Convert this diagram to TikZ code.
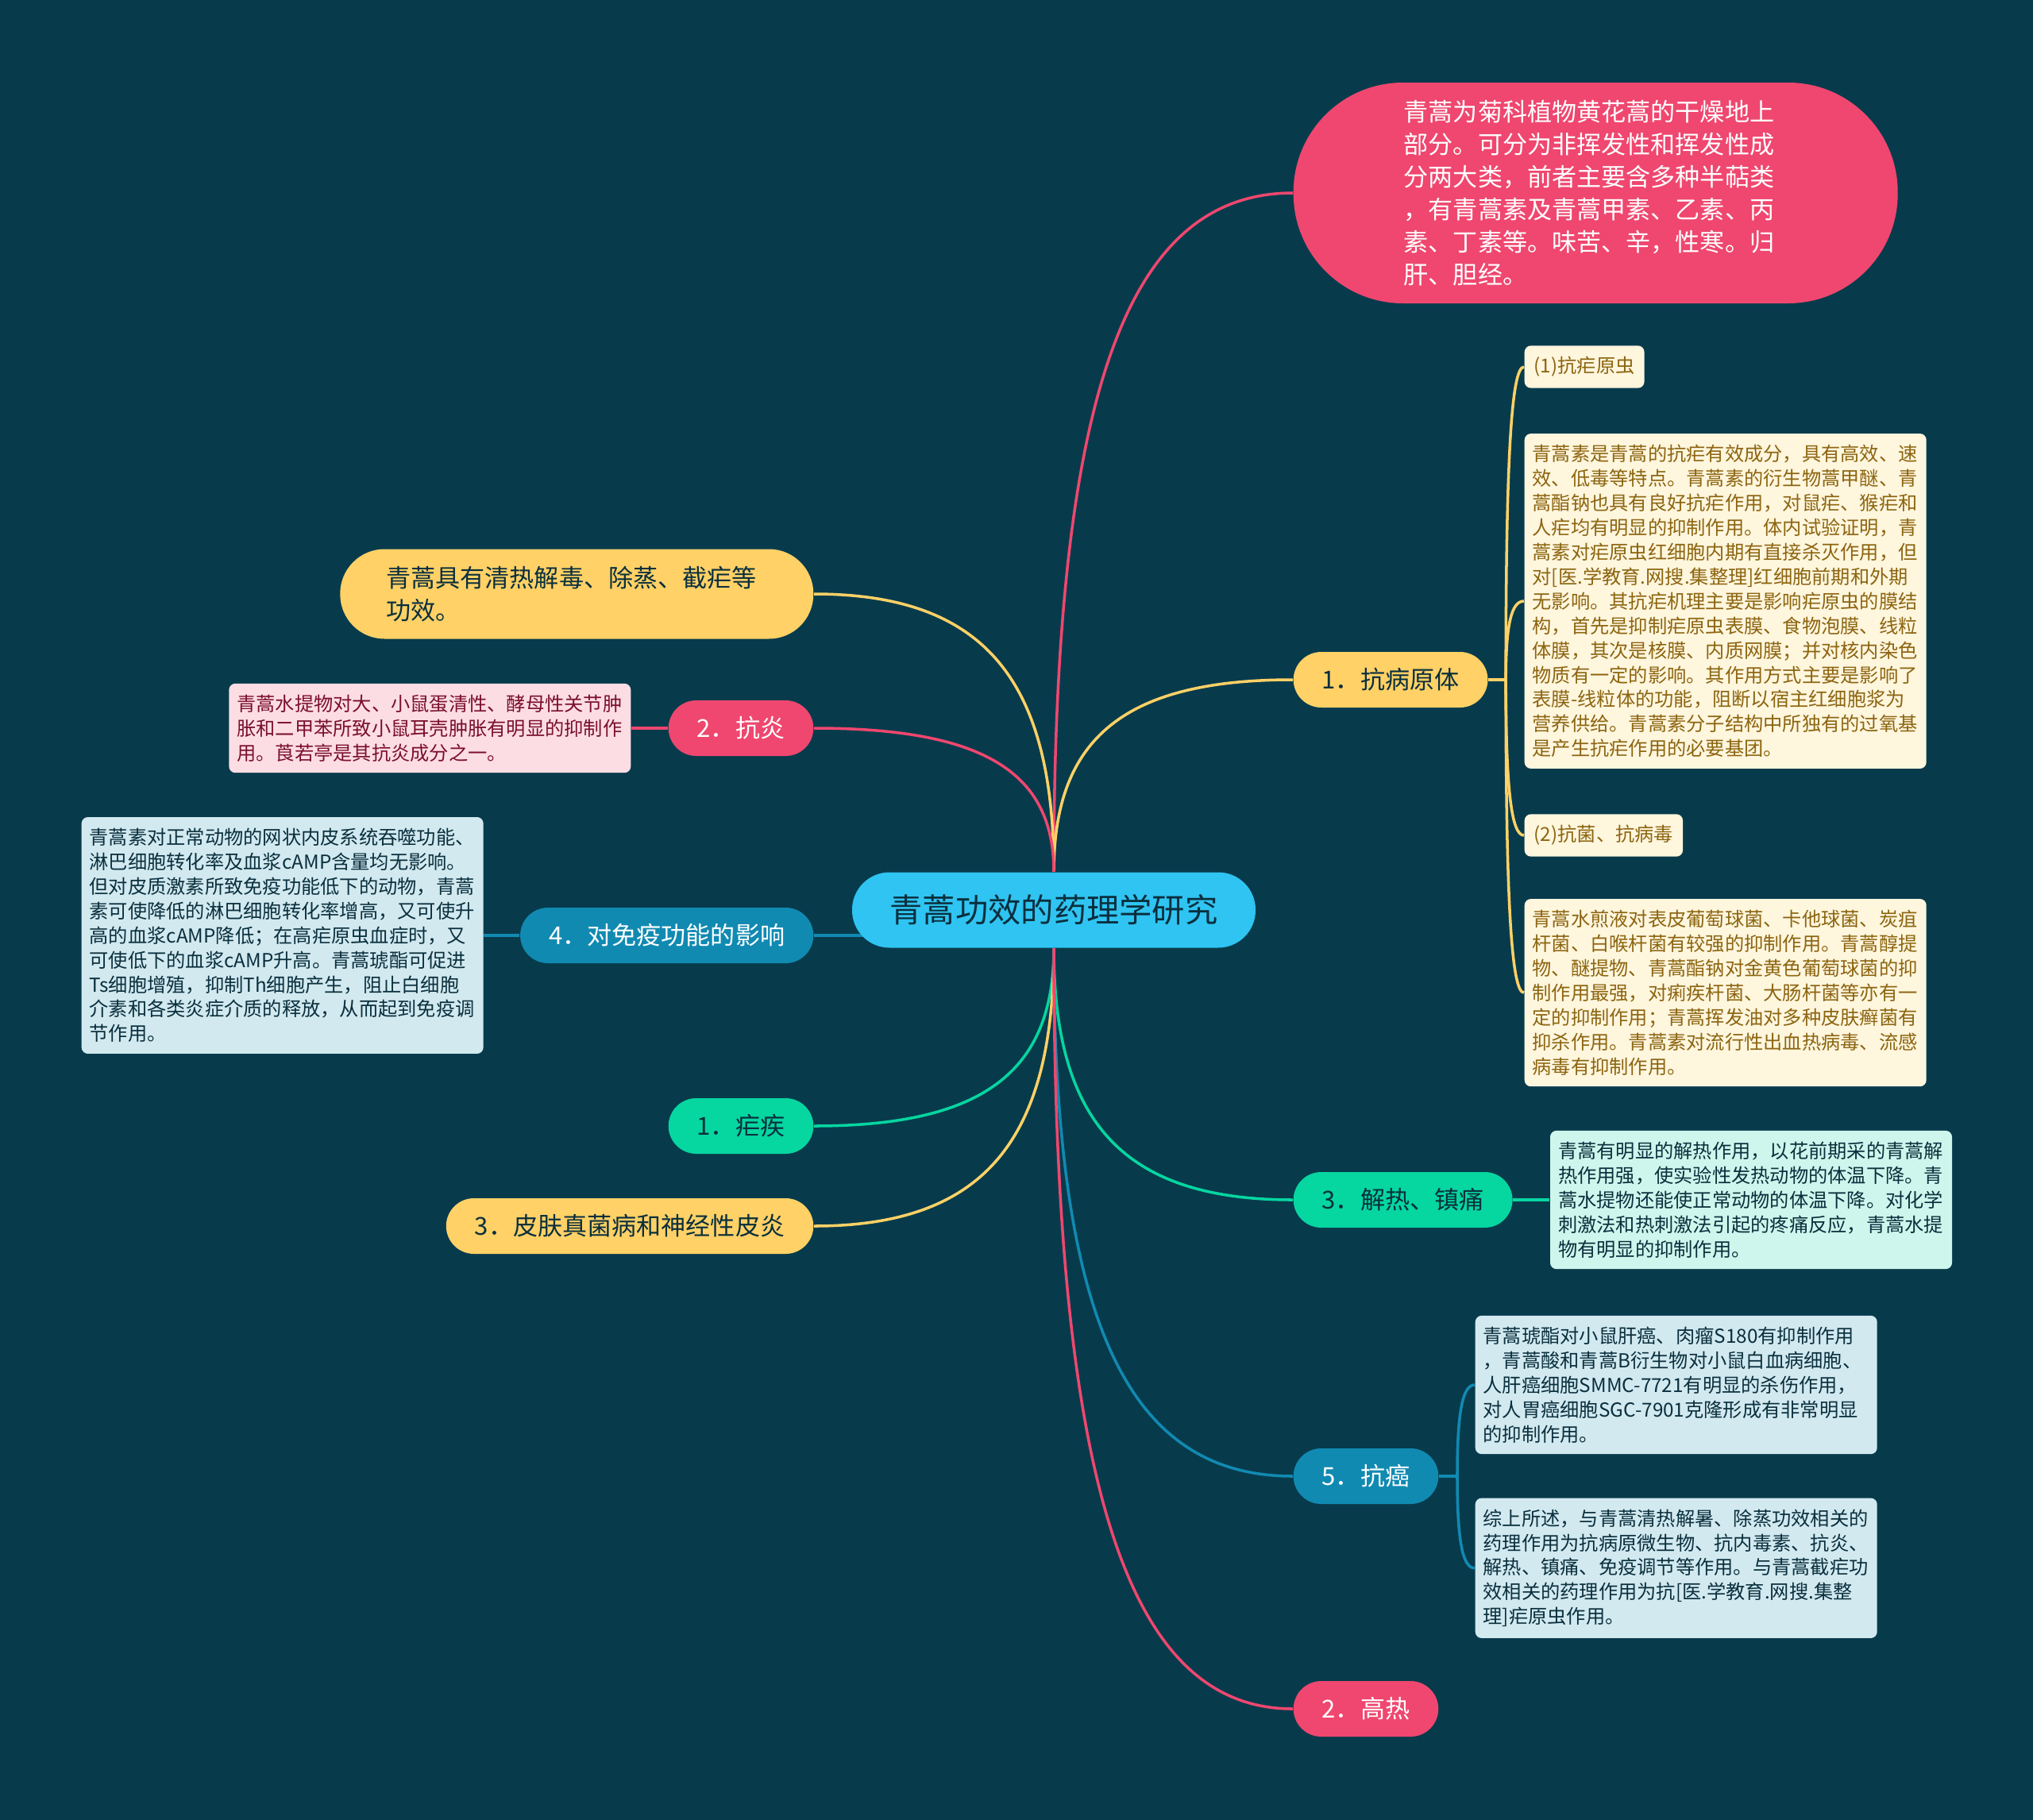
\documentclass[tikz,border=0pt]{standalone}
\usepackage{fontspec}
\newfontfamily\cjk{Noto Sans CJK SC}
\usetikzlibrary{positioning,calc,backgrounds}
\definecolor{mapbg}{HTML}{073B4C}
\definecolor{mappink}{HTML}{EF476F}
\definecolor{mapyellow}{HTML}{FFD166}
\definecolor{mapgreen}{HTML}{06D6A0}
\definecolor{mapblue}{HTML}{118AB2}
\definecolor{mapcyan}{HTML}{2FC4F2}
\definecolor{creamfill}{HTML}{FFF6DE}
\definecolor{creamtext}{HTML}{8C6510}
\definecolor{rosefill}{HTML}{FDDDE4}
\definecolor{rosetext}{HTML}{7A0F2E}
\definecolor{mintfill}{HTML}{CFF6EC}
\definecolor{skyfill}{HTML}{D2E9F0}
\definecolor{inktext}{HTML}{0A2F3D}
\tikzset{
  rootbox/.style={rectangle,rounded corners=0.47cm,fill=mapcyan,text=inktext,font=\cjk\fontsize{11.75}{14}\selectfont,minimum width=5.08cm,minimum height=0.95cm},
  topic/.style={rectangle,rounded corners=0.35cm,fill=#1,font=\cjk\fontsize{8.85}{11.67}\selectfont,inner xsep=0.36cm,inner ysep=0cm,minimum height=0.70cm},
  bigtopic/.style={rectangle,fill=#1,align=left,font=\cjk\fontsize{8.85}{11.67}\selectfont},
  notebox/.style={rectangle,rounded corners=0.08cm,fill=#1,font=\cjk\fontsize{6.9}{8.8}\selectfont,align=left,text width=4.86cm,inner xsep=0.1cm,inner ysep=0.14cm},
  tagbox/.style={rectangle,rounded corners=0.08cm,fill=creamfill,text=creamtext,font=\cjk\fontsize{6.9}{8.8}\selectfont,inner xsep=0.12cm,inner ysep=0.14cm},
  wire/.style={line width=1pt,draw=#1},
  branch/.style={to path={.. controls ($(\tikztostart)!0.7!(\tikztostart |- \tikztotarget)$) and ($(\tikztotarget)!0.7!(\tikztostart |- \tikztotarget)$) .. (\tikztotarget)}}
}
\begin{document}
\begin{tikzpicture}
\useasboundingbox (0,0) rectangle (25.6,-22.92);
\node[rootbox] (root) at (13.27,-11.46) {青蒿功效的药理学研究};
% right side
\node[bigtopic=mappink,text=white,rounded corners=1.38cm,minimum width=7.61cm,minimum height=2.78cm,text width=4.83cm,anchor=west] (intro) at (16.28,-2.43) {青蒿为菊科植物黄花蒿的干燥地上\\部分。可分为非挥发性和挥发性成\\分两大类，前者主要含多种半萜类\\，有青蒿素及青蒿甲素、乙素、丙\\素、丁素等。味苦、辛，性寒。归\\肝、胆经。};
\node[topic=mapyellow,text=inktext,anchor=west] (pathogen) at (16.28,-8.56) {1．抗病原体};
\node[tagbox,anchor=west] (antiplas) at (19.19,-4.62) {(1)抗疟原虫};
\node[notebox=creamfill,text=creamtext,below=0.56cm of antiplas.south west,anchor=north west] (plasnote) {青蒿素是青蒿的抗疟有效成分，具有高效、速\\效、低毒等特点。青蒿素的衍生物蒿甲醚、青\\蒿酯钠也具有良好抗疟作用，对鼠疟、猴疟和\\人疟均有明显的抑制作用。体内试验证明，青\\蒿素对疟原虫红细胞内期有直接杀灭作用，但\\对[医.学教育.网搜.集整理]红细胞前期和外期\\无影响。其抗疟机理主要是影响疟原虫的膜结\\构，首先是抑制疟原虫表膜、食物泡膜、线粒\\体膜，其次是核膜、内质网膜；并对核内染色\\物质有一定的影响。其作用方式主要是影响了\\表膜-线粒体的功能，阻断以宿主红细胞浆为\\营养供给。青蒿素分子结构中所独有的过氧基\\是产生抗疟作用的必要基团。};
\node[tagbox,below=0.56cm of plasnote.south west,anchor=north west] (antibac) {(2)抗菌、抗病毒};
\node[notebox=creamfill,text=creamtext,below=0.52cm of antibac.south west,anchor=north west] (bacnote) {青蒿水煎液对表皮葡萄球菌、卡他球菌、炭疽\\杆菌、白喉杆菌有较强的抑制作用。青蒿醇提\\物、醚提物、青蒿酯钠对金黄色葡萄球菌的抑\\制作用最强，对痢疾杆菌、大肠杆菌等亦有一\\定的抑制作用；青蒿挥发油对多种皮肤癣菌有\\抑杀作用。青蒿素对流行性出血热病毒、流感\\病毒有抑制作用。};
\node[topic=mapgreen,text=inktext,anchor=west] (fever) at (16.28,-15.11) {3．解热、镇痛};
\node[notebox=mintfill,text=inktext,right=0.46cm of fever] (fevernote) {青蒿有明显的解热作用，以花前期采的青蒿解\\热作用强，使实验性发热动物的体温下降。青\\蒿水提物还能使正常动物的体温下降。对化学\\刺激法和热刺激法引起的疼痛反应，青蒿水提\\物有明显的抑制作用。};
\node[topic=mapblue,text=white,anchor=west] (cancer) at (16.28,-18.59) {5．抗癌};
\node[notebox=skyfill,text=inktext,anchor=west] (cancernote) at (18.57,-17.44) {青蒿琥酯对小鼠肝癌、肉瘤S180有抑制作用\\，青蒿酸和青蒿B衍生物对小鼠白血病细胞、\\人肝癌细胞SMMC-7721有明显的杀伤作用，\\对人胃癌细胞SGC-7901克隆形成有非常明显\\的抑制作用。};
\node[notebox=skyfill,text=inktext,below=0.54cm of cancernote.south west,anchor=north west] (conclusion) {综上所述，与青蒿清热解暑、除蒸功效相关的\\药理作用为抗病原微生物、抗内毒素、抗炎、\\解热、镇痛、免疫调节等作用。与青蒿截疟功\\效相关的药理作用为抗[医.学教育.网搜.集整\\理]疟原虫作用。};
\node[topic=mappink,text=white,anchor=west] (hyperthermia) at (16.28,-21.52) {2．高热};
% left side
\node[bigtopic=mapyellow,text=inktext,rounded corners=0.56cm,minimum width=5.96cm,minimum height=1.13cm,text width=4.8cm,anchor=east] (effect) at (10.25,-7.48) {青蒿具有清热解毒、除蒸、截疟等\\功效。};
\node[topic=mappink,text=white,anchor=east] (inflam) at (10.25,-9.17) {2．抗炎};
\node[notebox=rosefill,text=rosetext,left=0.46cm of inflam] (inflamnote) {青蒿水提物对大、小鼠蛋清性、酵母性关节肿\\胀和二甲苯所致小鼠耳壳肿胀有明显的抑制作\\用。莨若亭是其抗炎成分之一。};
\node[topic=mapblue,text=white,anchor=east] (immune) at (10.25,-11.78) {4．对免疫功能的影响};
\node[notebox=skyfill,text=inktext,left=0.45cm of immune] (immunenote) {青蒿素对正常动物的网状内皮系统吞噬功能、\\淋巴细胞转化率及血浆cAMP含量均无影响。\\但对皮质激素所致免疫功能低下的动物，青蒿\\素可使降低的淋巴细胞转化率增高，又可使升\\高的血浆cAMP降低；在高疟原虫血症时，又\\可使低下的血浆cAMP升高。青蒿琥酯可促进\\Ts细胞增殖，抑制Th细胞产生，阻止白细胞\\介素和各类炎症介质的释放，从而起到免疫调\\节作用。};
\node[topic=mapgreen,text=inktext,anchor=east] (malaria) at (10.25,-14.18) {1．疟疾};
\node[topic=mapyellow,text=inktext,anchor=east] (skin) at (10.25,-15.44) {3．皮肤真菌病和神经性皮炎};
\coordinate[right=0.22cm of pathogen] (pathjoin);
\coordinate[right=0.23cm of cancer] (cancerjoin);
\begin{pgfonlayer}{background}
\fill[mapbg] (0,0) rectangle (25.6,-22.92);
\draw[wire=mappink] (root.north) to[branch] (intro.west);
\draw[wire=mapyellow] (root.north) to[branch] (pathogen.west);
\draw[wire=mapyellow] (root.north) to[branch] (effect.east);
\draw[wire=mappink] (root.north) to[branch] (inflam.east);
\draw[wire=mapblue] (immune.east -| root.center) -- (immune.east);
\draw[wire=mapgreen] (root.south) to[branch] (malaria.east);
\draw[wire=mapyellow] (root.south) to[branch] (skin.east);
\draw[wire=mapgreen] (root.south) to[branch] (fever.west);
\draw[wire=mapblue] (root.south) to[branch] (cancer.west);
\draw[wire=mappink] (root.south) to[branch] (hyperthermia.west);
\draw[wire=mapyellow] (pathogen.east) -- (pathjoin);
\draw[wire=mapyellow] (pathjoin) to[branch] (antiplas.west);
\draw[wire=mapyellow] (pathjoin) to[branch] (plasnote.west);
\draw[wire=mapyellow] (pathjoin) to[branch] (antibac.west);
\draw[wire=mapyellow] (pathjoin) to[branch] (bacnote.west);
\draw[wire=mapgreen] (fever.east) -- (fevernote.west);
\draw[wire=mapblue] (cancer.east) -- (cancerjoin);
\draw[wire=mapblue] (cancerjoin) to[branch] (cancernote.west);
\draw[wire=mapblue] (cancerjoin) to[branch] (conclusion.west);
\draw[wire=mappink] (inflam.west) -- (inflamnote.east);
\draw[wire=mapblue] (immune.west) -- (immunenote.east);
\end{pgfonlayer}
\end{tikzpicture}
\end{document}
